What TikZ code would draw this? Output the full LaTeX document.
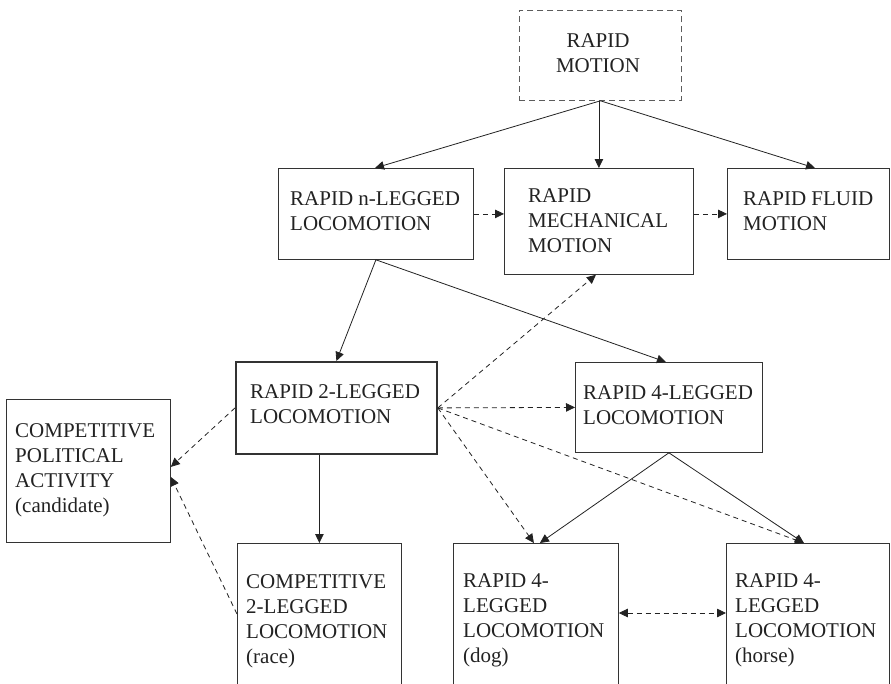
\documentclass[tikz,border=0pt]{standalone}
\usepackage{fontspec}
\setmainfont{Liberation Serif}
\usetikzlibrary{arrows.meta}
\definecolor{ink}{HTML}{222222}
\definecolor{frame}{HTML}{333333}
\begin{document}
\begin{tikzpicture}[x=1pt,y=-1pt,
  box/.style={draw=frame, line width=0.8pt, inner sep=0pt, anchor=north west},
  lbl/.style={anchor=north west, inner sep=0pt, align=left, text=ink,
              font=\fontsize{21}{25}\selectfont},
  tip/.tip={Triangle[length=9pt,width=8.5pt]},
  arr/.style={draw=ink, line width=0.8pt, -tip},
  darr/.style={arr, dash pattern=on 5pt off 4pt},
  ddarr/.style={draw=ink, line width=0.8pt, dash pattern=on 5pt off 4pt, tip-tip}]
\useasboundingbox (0,0) rectangle (891,683);
\clip (0,0) rectangle (891,683);

% boxes
\node[box, draw=frame!80, dash pattern=on 6pt off 4pt, minimum width=162pt, minimum height=90pt] (motion) at (519,10) {};
\node[box, minimum width=195pt, minimum height=91pt]  (nleg)  at (278,168) {};
\node[box, minimum width=189pt, minimum height=106pt] (mech)  at (504,168) {};
\node[box, minimum width=162pt, minimum height=91pt]  (fluid) at (727,168) {};
\node[box, line width=1.8pt, minimum width=201pt, minimum height=92pt] (two) at (235,361) {};
\node[box, minimum width=187pt, minimum height=90pt]  (four)  at (575,362) {};
\node[box, minimum width=164pt, minimum height=143pt] (pol)   at (6,399) {};
\node[box, minimum width=164pt, minimum height=160pt] (comp)  at (237,543) {};
\node[box, minimum width=165pt, minimum height=160pt] (dog)   at (453,543) {};
\node[box, minimum width=163pt, minimum height=160pt] (horse) at (726,543) {};

% labels
\node[lbl, align=center, anchor=north] (motion-t) at (598,33) {RAPID\\MOTION};
\node[lbl] (nleg-t)  at (290,191) {RAPID n-LEGGED\\LOCOMOTION};
\node[lbl] (mech-t)  at (528,188) {RAPID\\MECHANICAL\\MOTION};
\node[lbl] (fluid-t) at (743,191) {RAPID FLUID\\MOTION};
\node[lbl] (two-t)   at (250,384) {RAPID 2-LEGGED\\LOCOMOTION};
\node[lbl] (four-t)  at (583,385) {RAPID 4-LEGGED\\LOCOMOTION};
\node[lbl] (pol-t)   at (15,423)  {COMPETITIVE\\POLITICAL\\ACTIVITY\\(candidate)};
\node[lbl] (comp-t)  at (246,574) {COMPETITIVE\\2-LEGGED\\LOCOMOTION\\(race)};
\node[lbl] (dog-t)   at (463,573) {RAPID 4-\\LEGGED\\LOCOMOTION\\(dog)};
\node[lbl] (horse-t) at (735,573) {RAPID 4-\\LEGGED\\LOCOMOTION\\(horse)};

% hierarchy links
\draw[arr] (motion.south) -- ([xshift=97pt]nleg.north west);
\draw[arr] (mech.north |- motion.south) -- (mech.north);
\draw[arr] (motion.south) -- ([xshift=88pt]fluid.north west);
\draw[arr] (nleg.south) -- (two.north);
\draw[arr] (nleg.south) -- ([xshift=-3pt]four.north);
\draw[arr] (two.south -| comp.north) -- (comp.north);
\draw[arr] (four.south) -- ([xshift=4pt]dog.north);
\draw[arr] (four.south) -- ([xshift=-4pt]horse.north);

% analogy links
\draw[darr] (nleg.east) -- (nleg.east -| mech.west);
\draw[darr] (fluid.west -| mech.east) -- (fluid.west);
\draw[darr] (two.east) -- ([xshift=-3pt]mech.south);
\draw[darr] (two.east) -- (four.west);
\draw[darr] (two.east) -- ([xshift=-2pt]dog.north);
\draw[darr] (two.east) -- ([xshift=-4pt]horse.north);
\draw[darr] (two.west) -- ([yshift=4pt]pol.east);
\draw[darr] ([yshift=-71pt]comp.north west) -- ([yshift=-6pt]pol.east);
\draw[ddarr] ([yshift=-70pt]dog.north east) -- ([yshift=-70pt]horse.north west);
\end{tikzpicture}
\end{document}
